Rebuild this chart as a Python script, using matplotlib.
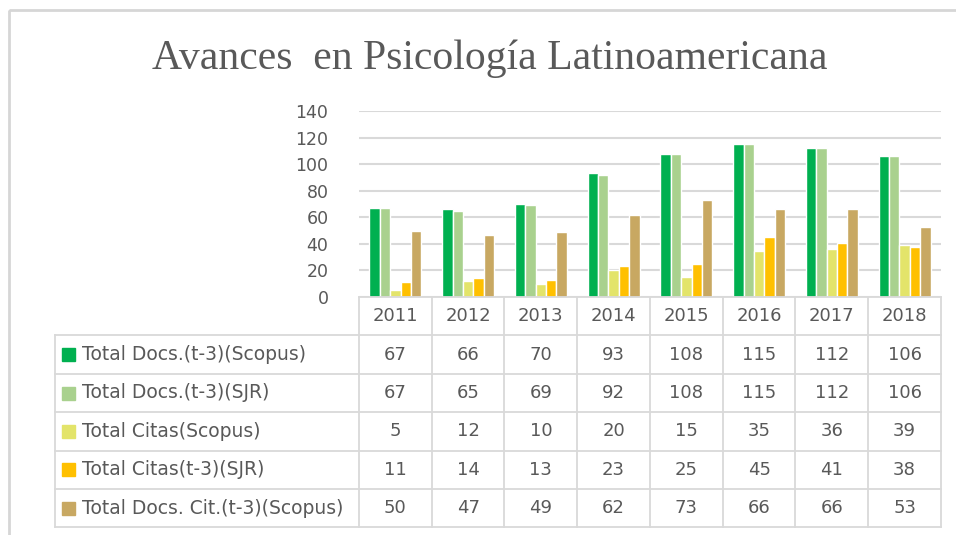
import numpy as np
import matplotlib
matplotlib.use("Agg")
import matplotlib.pyplot as plt
from matplotlib.patches import Rectangle

years = ["2011", "2012", "2013", "2014", "2015", "2016", "2017", "2018"]
series_names = [
    "Total Docs.(t-3)(Scopus)",
    "Total Docs.(t-3)(SJR)",
    "Total Citas(Scopus)",
    "Total Citas(t-3)(SJR)",
    "Total Docs. Cit.(t-3)(Scopus)",
]
docs_scopus = [67, 66, 70, 93, 108, 115, 112, 106]
docs_sjr = [67, 65, 69, 92, 108, 115, 112, 106]
citas_scopus = [5, 12, 10, 20, 15, 35, 36, 39]
citas_sjr = [11, 14, 13, 23, 25, 45, 41, 38]
docs_cit_scopus = [50, 47, 49, 62, 73, 66, 66, 53]
series = [docs_scopus, docs_sjr, citas_scopus, citas_sjr, docs_cit_scopus]
colors = ["#00b050", "#a9d18e", "#e3e46a", "#ffc000", "#c8a862"]

W, H = 956, 535
txt = "#595959"
grid = "#d9d9d9"
font = "DejaVu Sans"

fig = plt.figure(figsize=(W / 100, H / 100), dpi=100)

# plot area (pixel geometry of the reference)
x0, x1 = 359, 941
ytop, ybot = 111, 297
ax = fig.add_axes([x0 / W, 1 - ybot / H, (x1 - x0) / W, (ybot - ytop) / H])
n = len(years)
slot = 0.1425
x = np.arange(n)
for k, (vals, c) in enumerate(zip(series, colors)):
    ax.bar(x + (k - 2) * slot, vals, width=slot, color=c,
           edgecolor="white", linewidth=1.0, zorder=3)
ax.set_xlim(-0.5, n - 0.5)
ax.set_ylim(0, 140)
ax.set_yticks(range(0, 141, 20))
ax.set_yticklabels([str(v) for v in range(0, 141, 20)],
                   fontsize=12.5, color=txt, family=font)
ax.tick_params(axis="y", length=0, pad=22)
ax.set_xticks([])
ax.grid(axis="y", color=grid, linewidth=1.5, zorder=0)
for s in ax.spines.values():
    s.set_visible(False)

# overlay in pixel coordinates for table and frame
ov = fig.add_axes([0, 0, 1, 1], zorder=5)
ov.set_xlim(0, W)
ov.set_ylim(H, 0)
ov.axis("off")
ov.patch.set_alpha(0)

ov.add_patch(Rectangle((9, 10), W + 20, H + 20, fill=False,
                       edgecolor="#d6d6d6", linewidth=2.0))

ov.text(490, 59, "Avances  en Psicología Latinoamericana", ha="center",
        va="center", fontsize=30, color=txt, family="Liberation Serif")

tl = 55
row_h = 38.4
col_w = (x1 - x0) / n
rows_top = ybot
lw = 1.3
# horizontal lines
ov.plot([x0, x1], [rows_top, rows_top], color=grid, lw=lw)
for r in range(1, len(series) + 2):
    y = rows_top + r * row_h
    ov.plot([tl, x1], [y, y], color=grid, lw=lw)
# vertical lines
ov.plot([tl, tl], [rows_top + row_h, rows_top + 6 * row_h], color=grid, lw=lw)
for c in range(n + 1):
    xc = x0 + c * col_w
    ov.plot([xc, xc], [rows_top, rows_top + 6 * row_h], color=grid, lw=lw)

for c, yr in enumerate(years):
    ov.text(x0 + (c + 0.5) * col_w, rows_top + 0.5 * row_h, yr, ha="center",
            va="center", fontsize=13, color=txt, family=font)
for r, (name, vals, colr) in enumerate(zip(series_names, series, colors)):
    yc = rows_top + (r + 1.5) * row_h
    ov.add_patch(Rectangle((62, yc - 6.5), 13, 13, color=colr))
    ov.text(82, yc, name, ha="left", va="center", fontsize=13.5,
            color=txt, family=font)
    for c, v in enumerate(vals):
        ov.text(x0 + (c + 0.5) * col_w, yc, str(v), ha="center",
                va="center", fontsize=13, color=txt, family=font)

fig.savefig("out.png", dpi=100, facecolor="white")
